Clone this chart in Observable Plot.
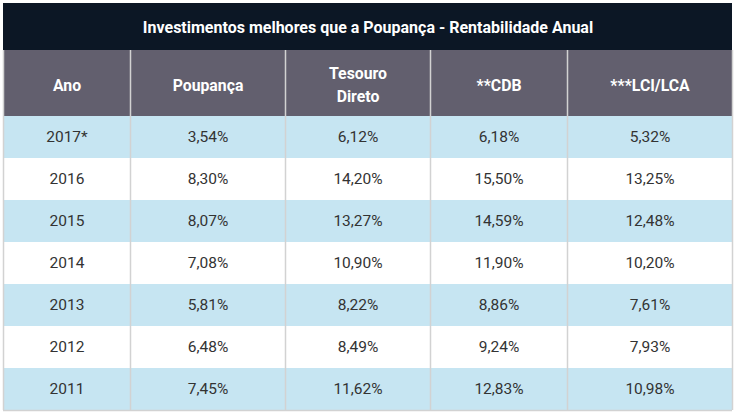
<!DOCTYPE html>
<html>
<head>
<meta charset="utf-8">
<script src="https://cdn.jsdelivr.net/npm/d3@7"></script>
<script src="https://cdn.jsdelivr.net/npm/@observablehq/plot@0.6"></script>
<style>
  html, body { margin: 0; padding: 0; background: #fff; }
  svg { display: block; }
</style>
</head>
<body>
<div id="chart"></div>
<script>
const title = "Investimentos melhores que a Poupança - Rentabilidade Anual";
const headers = ["Ano", "Poupança", "Tesouro\nDireto", "**CDB", "***LCI/LCA"];
const anos = ["2017*", "2016", "2015", "2014", "2013", "2012", "2011"];
const poupanca = [3.54, 8.30, 8.07, 7.08, 5.81, 6.48, 7.45];
const tesouro = [6.12, 14.20, 13.27, 10.90, 8.22, 8.49, 11.62];
const cdb = [6.18, 15.50, 14.59, 11.90, 8.86, 9.24, 12.83];
const lci = [5.32, 13.25, 12.48, 10.20, 7.61, 7.93, 10.98];

// layout (not data)
const colWidths = [127, 155, 145, 137, 165];
const titleH = 47, headerH = 66, rowH = 42;
const totalW = d3.sum(colWidths);
const totalH = titleH + headerH + rowH * anos.length;
const colStart = colWidths.map((w, i) => d3.sum(colWidths.slice(0, i)));
const font = "Roboto, 'Open Sans', sans-serif";

const fmt = v => d3.format(".2f")(v).replace(".", ",") + "%";
const series = [poupanca, tesouro, cdb, lci];

const headerCells = headers.map((h, c) => ({
  x1: colStart[c], x2: colStart[c] + colWidths[c], y1: titleH, y2: titleH + headerH, label: h
}));
const bodyCells = [];
anos.forEach((a, r) => {
  const row = [a, ...series.map(s => fmt(s[r]))];
  row.forEach((label, c) => {
    bodyCells.push({
      x1: colStart[c], x2: colStart[c] + colWidths[c],
      y1: titleH + headerH + r * rowH, y2: titleH + headerH + (r + 1) * rowH,
      label, stripe: r % 2 === 0
    });
  });
});
const dividers = colStart.slice(1);

const chart = Plot.plot({
  width: 737,
  height: 415,
  marginTop: 3,
  marginBottom: 5,
  marginLeft: 3,
  marginRight: 5,
  x: {domain: [0, totalW], axis: null},
  y: {domain: [0, totalH], reverse: true, axis: null},
  style: {fontFamily: font, background: "#fff"},
  marks: [
    // title bar
    Plot.rect([{x1: 0, x2: totalW, y1: 0, y2: titleH}], {x1: "x1", x2: "x2", y1: "y1", y2: "y2", fill: "#0c1725"}),
    Plot.text([title], {x: totalW / 2, y: titleH / 2 + 1, text: d => d, fill: "#fff", fontWeight: "bold", fontSize: 16}),
    // header
    Plot.rect(headerCells, {x1: "x1", x2: "x2", y1: "y1", y2: "y2", fill: "#625f6e"}),
    Plot.text(headerCells, {x: d => (d.x1 + d.x2) / 2, y: d => (d.y1 + d.y2) / 2, text: "label", fill: "#fff", fontWeight: "bold", fontSize: 15.8, lineHeight: 1.45}),
    // body
    Plot.rect(bodyCells, {x1: "x1", x2: "x2", y1: "y1", y2: "y2", fill: d => d.stripe ? "#c6e5f2" : "#ffffff"}),
    Plot.text(bodyCells, {x: d => (d.x1 + d.x2) / 2, y: d => (d.y1 + d.y2) / 2, text: "label", fill: "#333", fontSize: 15.5}),
    // grid lines
    Plot.ruleX(dividers, {x: d => d, y1: titleH, y2: totalH, stroke: "#d2d2d2", strokeWidth: 1.5}),
    Plot.ruleX([0, totalW], {x: d => d, y1: titleH, y2: totalH, stroke: "#d2d2d2", strokeWidth: 1.5}),
    Plot.ruleY([totalH], {y: d => d, x1: 0, x2: totalW, stroke: "#d2d2d2", strokeWidth: 1.5})
  ]
});
document.getElementById("chart").append(chart);
</script>
</body>
</html>
